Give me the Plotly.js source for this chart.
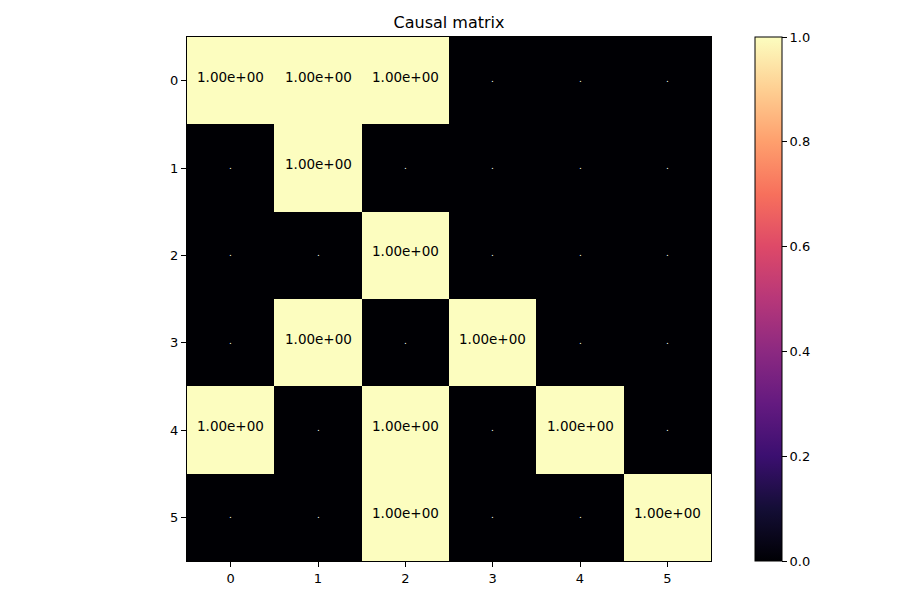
<!DOCTYPE html>
<html>
<head>
<meta charset="utf-8">
<script src="https://cdn.plot.ly/plotly-3.0.1.min.js"></script>
<style>html,body{margin:0;padding:0;background:#fff;}</style>
</head>
<body>
<div id="chart" style="width:900px;height:600px;"></div>
<script>
const xLabels = [0, 1, 2, 3, 4, 5];
const yLabels = [0, 1, 2, 3, 4, 5];
const matrix = [
  [1, 1, 1, 0, 0, 0],
  [0, 1, 0, 0, 0, 0],
  [0, 0, 1, 0, 0, 0],
  [0, 1, 0, 1, 0, 0],
  [1, 0, 1, 0, 1, 0],
  [0, 0, 1, 0, 0, 1]
];
const colorbarTicks = [0, 0.2, 0.4, 0.6, 0.8, 1.0];

const magma = [
  [0.0, '#000004'], [0.1, '#140e36'], [0.2, '#3b0f70'], [0.3, '#641a80'],
  [0.4, '#8c2981'], [0.5, '#b73779'], [0.6, '#de4968'], [0.7, '#f7705c'],
  [0.8, '#fe9f6d'], [0.9, '#fecf92'], [1.0, '#fcfdbf']
];

const annotations = [];
matrix.forEach((row, i) => {
  row.forEach((v, j) => {
    if (v !== 0) {
      annotations.push({x: xLabels[j], y: yLabels[i], xref: 'x', yref: 'y',
        text: v.toExponential(2).replace(/e([+-])(\d)$/, 'e$10$2'),
        showarrow: false, yshift: 4,
        font: {family: 'DejaVu Sans', size: 13.5, color: '#000'}});
    } else {
      annotations.push({x: xLabels[j], y: yLabels[i], xref: 'x', yref: 'y',
        text: '.', showarrow: false, yshift: 2,
        font: {family: 'DejaVu Sans', size: 9, color: '#fff'}});
    }
  });
});

const trace = {
  type: 'heatmap',
  z: matrix,
  x: xLabels,
  y: yLabels,
  colorscale: magma,
  zmin: 0, zmax: 1,
  zsmooth: false,
  hoverinfo: 'skip',
  colorbar: {
    x: (755 - 187) / 524, xanchor: 'left', xref: 'paper',
    y: 0, yanchor: 'bottom', len: 1, lenmode: 'fraction',
    thickness: 27, thicknessmode: 'pixels',
    outlinewidth: 1, outlinecolor: '#000',
    tickvals: colorbarTicks, ticktext: colorbarTicks.map(v => v.toFixed(1)),
    ticks: 'outside', ticklen: 5, tickwidth: 1, tickcolor: '#000',
    tickfont: {family: 'DejaVu Sans', size: 13, color: '#000'},
    xpad: 0, ypad: 0
  }
};

const axisCommon = {
  showgrid: false, zeroline: false,
  showline: true, linecolor: '#000', linewidth: 1, mirror: true,
  ticks: 'outside', ticklen: 5, tickwidth: 1, tickcolor: '#000',
  tickfont: {family: 'DejaVu Sans', size: 13, color: '#000'},
  tickmode: 'array'
};

const layout = {
  width: 900, height: 600,
  margin: {l: 187, r: 189, t: 37, b: 39},
  paper_bgcolor: '#fff', plot_bgcolor: '#fff',
  title: {text: 'Causal matrix', font: {family: 'DejaVu Sans', size: 16, color: '#000'},
          x: 0.5, xref: 'paper', xanchor: 'center', y: 1 - 22/600, yanchor: 'middle'},
  xaxis: Object.assign({}, axisCommon, {range: [-0.5, 5.5], tickvals: xLabels, ticktext: xLabels.map(String)}),
  yaxis: Object.assign({}, axisCommon, {range: [5.5, -0.5], tickvals: yLabels, ticktext: yLabels.map(String)}),
  annotations: annotations,
  font: {family: 'DejaVu Sans'}
};

Plotly.newPlot('chart', [trace], layout, {displayModeBar: false, staticPlot: true});
</script>
</body>
</html>
